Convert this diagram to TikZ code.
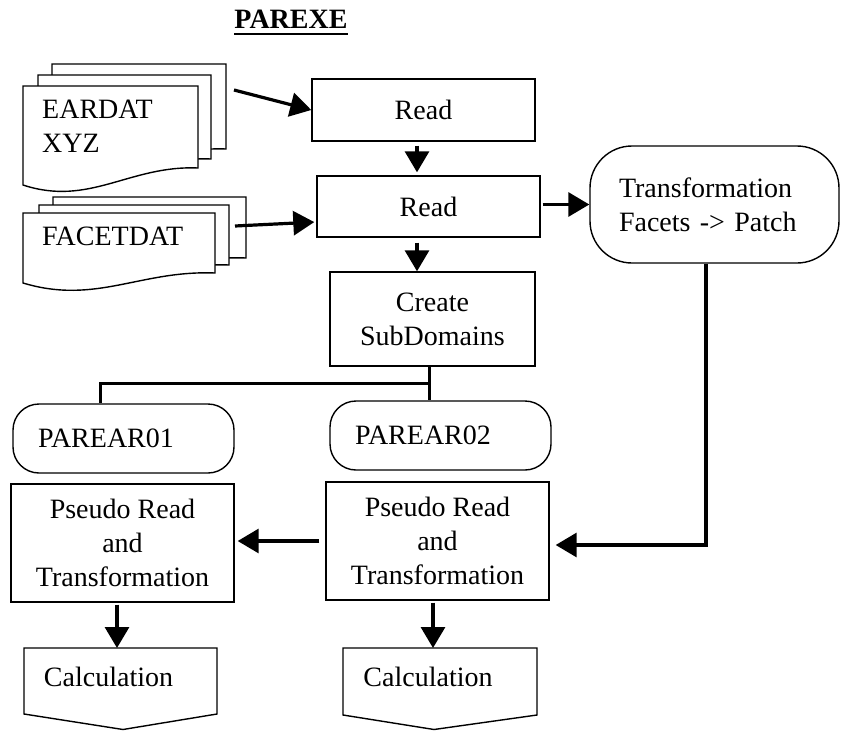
\documentclass[tikz,border=0pt]{standalone}
\usepackage{fontspec}
\setmainfont{Liberation Serif}
\usetikzlibrary{arrows.meta,calc}
\newcommand\fs{\fontsize{28}{34}\selectfont}
\newcommand\mydocshape[5]{%
 \pgfmathsetmacro\mdXr{#1+#3}%
 \pgfmathsetmacro\mdYb{#2+#4}%
 \pgfmathsetmacro\mdCa{#1+0.61*#3}%
 \pgfmathsetmacro\mdCb{#1+0.38*#3}%
 \pgfmathsetmacro\mdYc{\mdYb-3}%
 \pgfmathsetmacro\mdYd{\mdYb+#5+22}%
 \pgfmathsetmacro\mdYe{\mdYb+#5}%
 \filldraw[docline] (#1,#2) -- (\mdXr,#2) -- (\mdXr,\mdYb) .. controls (\mdCa,\mdYc) and (\mdCb,\mdYd) .. (#1,\mdYe) -- cycle;%
}
\tikzset{
 box/.style={draw, line width=1.4pt, fill=white, inner sep=0pt, align=center, font=\fs},
 term/.style={box, rounded corners=26pt},
 docline/.style={draw, line width=1.4pt, fill=white},
 arr/.style={line width=3.2pt, -{Triangle[length=21pt,width=24pt]}},
 conn/.style={line width=3pt},
 txt/.style={inner sep=0pt, font=\fs, align=left},
}
\begin{document}
\begin{tikzpicture}[x=1pt,y=-1pt]
\useasboundingbox (0,0) rectangle (841,731);

% title
\node[inner sep=0pt, anchor=base, font=\fs\bfseries] (title) at (291,28) {PAREXE};
\draw[line width=2.5pt] ([yshift=-6pt]title.base west) -- ([yshift=-6pt]title.base east);

% documents
\mydocshape{52}{64}{174}{85}{17}
\mydocshape{38}{75}{173}{84}{17}
\mydocshape{23}{86}{175}{82}{17}
\node[txt, anchor=west] (ear) at (42,126) {EARDAT\\XYZ};

\mydocshape{53}{197}{193}{61}{10}
\mydocshape{39}{205}{190}{60}{10}
\mydocshape{23}{213}{192}{60}{10}
\node[txt, anchor=west] (fac) at (42,236) {FACETDAT};

% process boxes
\node[box, minimum width=223pt, minimum height=62pt] (read1) at (423.5,110) {Read};
\node[box, minimum width=223pt, minimum height=61pt] (read2) at (428.5,206.5) {Read};
\node[box, minimum width=205pt, minimum height=94pt] (create) at (432.5,319) {Create\\SubDomains};
\node[box, rounded corners=42pt, minimum width=249pt, minimum height=117pt,
      text width=191pt, inner xsep=29pt, align=left] (tr) at (714.5,204.5) {Transformation\\Facets -> Patch};

\node[term, minimum width=221pt, minimum height=69pt, text width=171pt, inner xsep=25pt, align=left] (p1) at (123.5,438.5) {PAREAR01};
\node[term, minimum width=221pt, minimum height=69pt, text width=171pt, inner xsep=25pt, align=left] (p2) at (440.5,435.5) {PAREAR02};

\node[box, minimum width=223pt, minimum height=118pt] (p1b) at (122.5,543) {Pseudo Read\\and\\Transformation};
\node[box, minimum width=223pt, minimum height=118pt] (p2b) at (437.5,541) {Pseudo Read\\and\\Transformation};

% calculation shapes
\filldraw[docline] (24,648) -- (217,648) -- (217,714) -- (123,729.5) -- (24,714) -- cycle;
\filldraw[docline] (343,648) -- (537,648) -- (537,715) -- (434,729.5) -- (343,715) -- cycle;
\node[txt] (c1) at (108.5,677) {Calculation};
\node[txt] (c2) at (428,677) {Calculation};
\coordinate (c1top) at (117,648);
\coordinate (c2top) at (433,648);

% helper coordinates
\coordinate (eaout) at (234,90);
\coordinate (faout) at (235,226);
\coordinate (ax1) at (417,0);
\coordinate (jn) at (429,383);
\coordinate (jl) at (100,383);
\coordinate (vx) at (706,0);

% connectors
\draw[arr] (eaout) -- (read1.west);
\draw[arr, shorten >=2pt] (faout) -- ([yshift=-15.5pt]read2.west);
\draw[arr, shorten <=4pt, shorten >=3pt] (read1.south -| ax1) -- (read2.north -| ax1);
\draw[arr, shorten <=5pt] (read2.south -| ax1) -- (create.north -| ax1);
\draw[arr, shorten <=2pt] (read2.east |- tr.west) -- (tr.west);
\draw[conn] (create.south -| jn) -- (jn) -- (p2.north -| jn);
\draw[conn] (jn) -- (jl) -- (p1.north -| jl);
\draw[arr, shorten >=6pt] (tr.south -| vx) |- ([yshift=-4pt]p2b.east);
\draw[arr, shorten <=6pt, shorten >=3pt] (p2b.west) -- (p1b.east |- p2b.west);
\draw[arr, shorten <=2pt] (p1b.south -| c1top) -- (c1top);
\draw[arr, shorten <=2pt] (p2b.south -| c2top) -- (c2top);
\end{tikzpicture}
\end{document}
